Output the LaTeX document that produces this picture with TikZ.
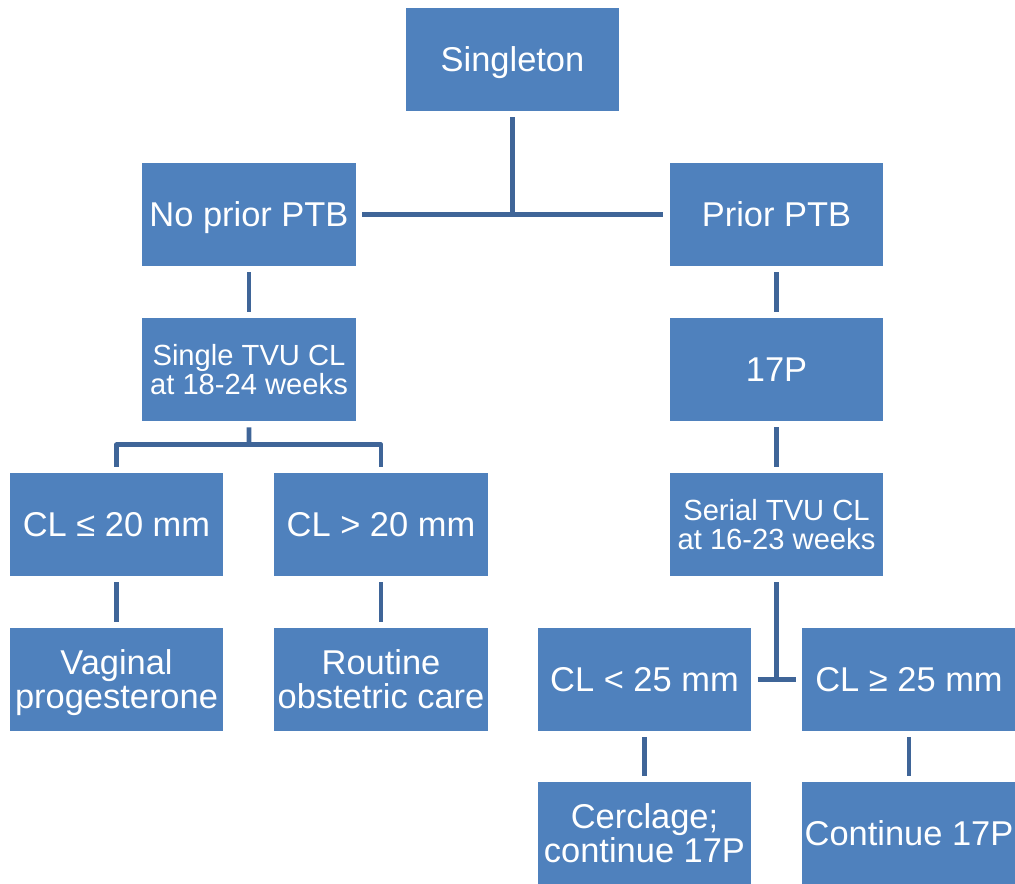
\documentclass[tikz,border=0pt]{standalone}
\usepackage{fontspec}
\setmainfont{Liberation Sans}
\usetikzlibrary{calc}
\definecolor{boxblue}{HTML}{4F81BD}
\definecolor{linkblue}{HTML}{3F6598}
\newcommand\boxstrut{\rule[-0.212em]{0pt}{1.117em}}
\newcommand\topstrut{\rule{0pt}{0.905em}}
\newcommand\botstrut{\rule[-0.212em]{0pt}{0.212em}}
\newcommand\twolines[2]{\topstrut#1\\#2\botstrut}
\tikzset{
  box/.style={rectangle, fill=boxblue, text=white, minimum width=4.27cm, minimum height=2.06cm,
    inner sep=0pt, align=center, font=\fontsize{19.6}{19.8}\selectfont,
    execute at begin node=\boxstrut},
  twobox/.style={box, execute at begin node={}},
  smallbox/.style={twobox, font=\fontsize{16.6}{16.6}\selectfont}
}
\tikzset{link/.style={draw=linkblue, line width=2.8pt, line join=round}}
\begin{document}
\begin{tikzpicture}[x=0.02cm, y=-0.02cm]
    \useasboundingbox (0,0) rectangle (1015,884);
    \def\gap{0.12cm}

    % top level
    \node[box] (single) at (512.5,59.5) {Singleton};
    \node[box] (noprior) at (249,214.5) {No prior PTB};
    \node[box] (prior) at (776.5,214.5) {Prior PTB};

    % left branch
    \node[smallbox] (tvu) at (249,369.5) {\twolines{Single TVU CL}{at 18-24 weeks}};
    \node[box] (le20) at (116.5,524.5) {CL ≤ 20 mm};
    \node[box] (gt20) at (381,524.5) {CL > 20 mm};
    \node[twobox] (vag) at (116.5,679.5) {\twolines{Vaginal}{progesterone}};
    \node[twobox] (routine) at (381,679.5) {\twolines{Routine}{obstetric care}};

    % right branch
    \node[box] (p17) at (776.5,369.5) {17P};
    \node[smallbox] (serial) at (776.5,524.5) {\twolines{Serial TVU CL}{at 16-23 weeks}};
    \node[box] (lt25) at (644.5,679.5) {CL < 25 mm};
    \node[box] (ge25) at (909,679.5) {CL ≥ 25 mm};
    \node[twobox] (cerc) at (644.5,833.5) {\twolines{Cerclage;}{continue 17P}};
    \node[box] (cont) at (909,833.5) {Continue 17P};

    % Singleton splits
    \draw[link] ([yshift=-\gap]single.south) -- (single.south |- noprior.east);
    \draw[link] ([xshift=\gap]noprior.east) -- ([xshift=-\gap]prior.west);

    % straight links
    \foreach \a/\b in {noprior/tvu, prior/p17, p17/serial, le20/vag, gt20/routine, lt25/cerc, ge25/cont} {
        \draw[link] ([yshift=-\gap]\a.south) -- ([yshift=\gap]\b.north);
    }

    % single TVU splits
    \coordinate (lsplit) at ($(tvu.south)!0.46!(tvu.south |- le20.north)$);
    \draw[link] ([yshift=-\gap]tvu.south) -- (lsplit);
    \draw[link] ([yshift=\gap]le20.north) -- (le20.north |- lsplit) -- (gt20.north |- lsplit) -- ([yshift=\gap]gt20.north);

    % serial TVU splits
    \draw[link] ([yshift=-\gap]serial.south) -- (serial.south |- lt25.east);
    \draw[link] ([xshift=\gap]lt25.east) -- ([xshift=-\gap]ge25.west);
\end{tikzpicture}
\end{document}
